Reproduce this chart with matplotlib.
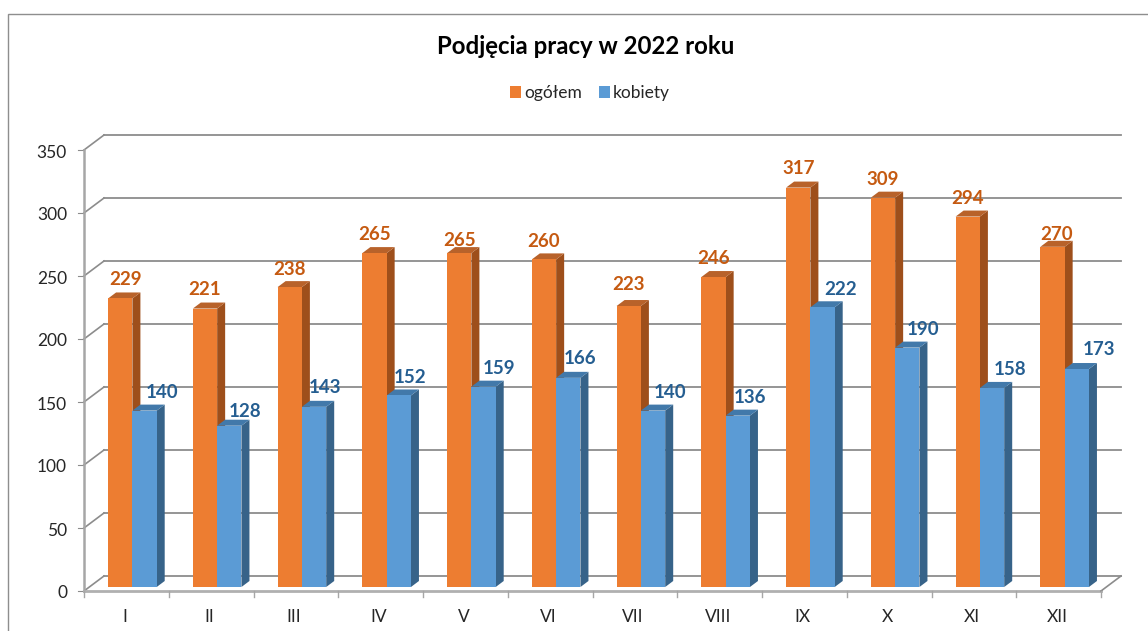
import matplotlib
matplotlib.use('Agg')
import matplotlib.pyplot as plt
from matplotlib.patches import Polygon, Rectangle

months = ['I', 'II', 'III', 'IV', 'V', 'VI', 'VII', 'VIII', 'IX', 'X', 'XI', 'XII']
ogolem = [229, 221, 238, 265, 265, 260, 223, 246, 317, 309, 294, 270]
kobiety = [140, 128, 143, 152, 159, 166, 140, 136, 222, 190, 158, 173]
y_ticks = [0, 50, 100, 150, 200, 250, 300, 350]

# hand moved data labels, in pixels
ogolem_dx = [5, 0, 0, 0, 0, 0, 0, 0, 0, 0, 0, 4]
ogolem_dy = [19, 19, 18, 19, 13, 18, 22, 19, 19, 18, 18, 12]
kobiety_dx = [17, 16, 11, 11, 15, 12, 17, 12, 18, 16, 18, 22]
kobiety_dy = [18, 14, 19, 18, 18, 19, 18, 18, 18, 18, 18, 20]

W, H = 1148, 631
GRID = '#8c8c8c'
plt.rcParams['font.family'] = ['Lato', 'DejaVu Sans']

fig = plt.figure(figsize=(W / 100, H / 100), dpi=100)
fig.patch.set_facecolor('white')

# frame around the chart, runs off the picture on the right and bottom
fig.add_artist(Rectangle((8 / W, -0.1), 1.2, 1.1 - 14 / H, transform=fig.transFigure,
                         fill=False, ec='#8e8e8e', lw=1))

# axes sit on the front plane of the 3d box
ax = fig.add_axes([84 / W, (H - 591) / H, (1101 - 84) / W, (591 - 150) / H])
ax.set_xlim(0, 12)
ax.set_ylim(0, 350)
ax.axis('off')

px = 12 / (1101 - 84)  # one pixel in x units
py = 350 / (591 - 150)  # one pixel in y units

wall_dx, wall_dy = 20 * px, 15 * py
depth_x, depth_y = 8 * px, 6 * py
floor = 4 * py
bar_w = 24.3 * px
bar_start = 24.1 * px


def bar3d(x, val, front, side, top):
    ax.bar(x, val, bar_w, bottom=floor, align='edge', color=front, ec='none',
           zorder=3, clip_on=False)
    ax.add_patch(Polygon([(x + bar_w, floor), (x + bar_w + depth_x, floor + depth_y),
                          (x + bar_w + depth_x, floor + val + depth_y), (x + bar_w, floor + val)],
                         fc=side, ec='none', zorder=2, clip_on=False))
    ax.add_patch(Polygon([(x, floor + val), (x + depth_x, floor + val + depth_y),
                          (x + bar_w + depth_x, floor + val + depth_y), (x + bar_w, floor + val)],
                         fc=top, ec='none', zorder=2, clip_on=False))


# back wall gridlines + left wall diagonals
for t in y_ticks:
    ax.plot([0, wall_dx], [t, t + wall_dy], color=GRID, lw=1.2, zorder=1, clip_on=False)
    ax.plot([wall_dx, 12 + wall_dx], [t + wall_dy, t + wall_dy], color=GRID, lw=1.3, zorder=1,
            clip_on=False)
    ax.plot([-6 * px, 0], [t, t], color=GRID, lw=0.8, zorder=1, clip_on=False)
    ax.text(-17 * px, t - 2.5 * py, str(t), ha='right', va='center', fontsize=12.5,
            color='#262626')

# left axis, floor front and right edge
ax.plot([0, 0], [0, 350], color='#a6a6a6', lw=1.8, zorder=1, clip_on=False)
ax.plot([0, 12], [0, 0], color='#b0b0b0', lw=2, zorder=1, clip_on=False)
ax.plot([12, 12 + wall_dx], [0, wall_dy], color=GRID, lw=1.2, zorder=1, clip_on=False)

for i in range(13):
    ax.plot([i, i], [0, -6 * py], color='#a6a6a6', lw=1, zorder=1, clip_on=False)

for i, m in enumerate(months):
    ax.text(i + 0.48, -26 * py, m, ha='center', va='center', fontsize=12.5, color='#262626')

    x1 = i + bar_start
    x2 = x1 + bar_w
    bar3d(x1, ogolem[i], '#ED7D31', '#9E4F1B', '#B8622A')
    bar3d(x2, kobiety[i], '#5B9BD5', '#376389', '#4279AA')
    ax.text(x1 + bar_w / 2 + ogolem_dx[i] * px, floor + ogolem[i] + ogolem_dy[i] * py,
            str(ogolem[i]), ha='center', va='center', fontsize=13.5, fontweight='bold',
            color='#C55A11', zorder=5)
    ax.text(x2 + bar_w / 2 + kobiety_dx[i] * px, floor + kobiety[i] + kobiety_dy[i] * py,
            str(kobiety[i]), ha='center', va='center', fontsize=13.5, fontweight='bold',
            color='#255E91', zorder=5)

fig.text(585.5 / W, (H - 46) / H, 'Podjęcia pracy w 2022 roku', ha='center', va='center',
         fontsize=17.3, fontweight='bold', color='black')

# legend
handles = [Rectangle((0, 0), 1, 1, fc='#ED7D31'), Rectangle((0, 0), 1, 1, fc='#5B9BD5')]
fig.legend(handles, ['ogółem', 'kobiety'], loc='center', bbox_to_anchor=(590 / W, (H - 93) / H),
           ncol=2, frameon=False, fontsize=12.5, handlelength=0.65, handleheight=0.7,
           handletextpad=0.15, columnspacing=1.0, labelcolor='#262626')

fig.savefig('out.png', dpi=100)
